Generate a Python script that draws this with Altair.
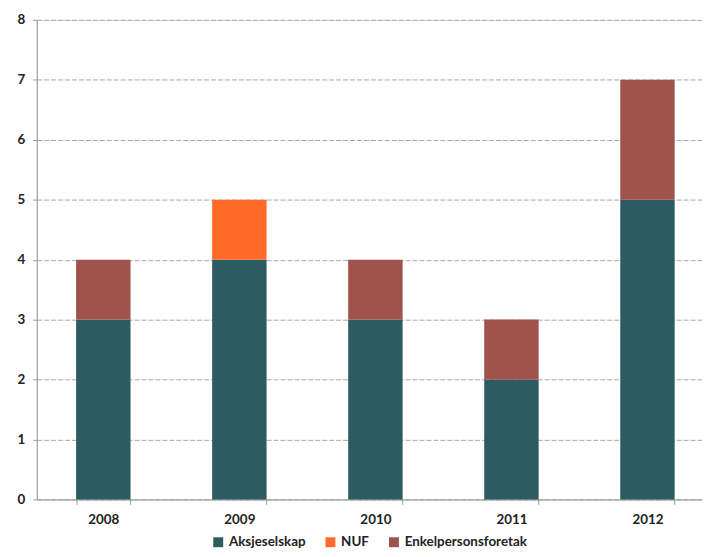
import altair as alt
import pandas as pd

years = ["2008", "2009", "2010", "2011", "2012"]
aksjeselskap = [3, 4, 3, 2, 5]
nuf = [0, 1, 0, 0, 0]
enkelperson = [1, 0, 1, 1, 2]

series = ["Aksjeselskap", "NUF", "Enkelpersonsforetak"]
colors = ["#2D5C60", "#FF6A2B", "#A0534B"]

rows = []
for i, y in enumerate(years):
    for k, (name, vals) in enumerate(zip(series, [aksjeselskap, nuf, enkelperson])):
        rows.append({"year": y, "type": name, "value": vals[i], "ord": k})
df = pd.DataFrame(rows)

font = "Lato"

chart = alt.Chart(df).mark_bar().encode(
    x=alt.X("year:N", title=None, sort=years,
            scale=alt.Scale(paddingInner=0.6, paddingOuter=0.245, align=0.59),
            axis=alt.Axis(labelAngle=0, labelFontSize=13.5, labelFontWeight="bold",
                          labelColor="#222222", domainColor="#999999", tickColor="#999999",
                          tickBand="extent", tickSize=5, labelPadding=8, grid=False)),
    y=alt.Y("value:Q", title=None, stack="zero",
            scale=alt.Scale(domain=[0, 8]),
            axis=alt.Axis(values=list(range(0, 9)), labelFontSize=13.5, labelFontWeight="bold",
                          labelColor="#222222", domainColor="#999999", ticks=True,
                          tickColor="#999999", tickSize=4, labelPadding=8,
                          gridColor="#A8A8A8", gridDash=[5, 2])),
    color=alt.Color("type:N", sort=series,
                    scale=alt.Scale(domain=series, range=colors),
                    legend=alt.Legend(title=None, orient="none", direction="horizontal",
                                      legendX=176, legendY=519,
                                      symbolType="square", symbolSize=100, symbolStrokeWidth=0,
                                      labelFontSize=13.5, labelFontWeight="bold",
                                      labelColor="#222222", columnPadding=18)),
    order=alt.Order("ord:Q"),
).properties(
    width=670, height=483,
    padding={"top": 3, "left": 9, "right": 0, "bottom": 3},
).configure_view(stroke=None).configure(font=font)

chart.save("out.html", embed_options={"renderer": "svg", "actions": False})
